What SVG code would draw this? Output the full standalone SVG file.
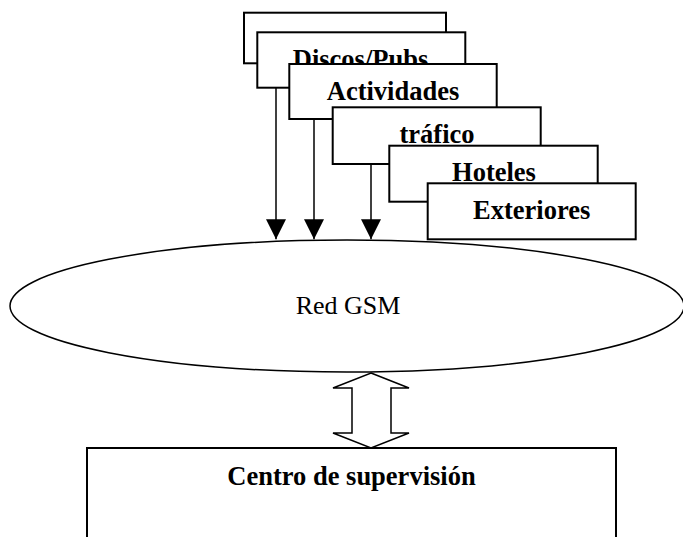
<svg xmlns="http://www.w3.org/2000/svg" width="683" height="537" viewBox="0 0 683 537">
<style>
.box{fill:#fff;stroke:#000;stroke-width:2}
.lbl{font-family:"Liberation Serif","Times New Roman",serif;font-weight:bold;font-size:26.5px;fill:#000;text-anchor:middle}
.reg{font-family:"Liberation Serif","Times New Roman",serif;font-size:26px;fill:#000;text-anchor:middle}
.conn{stroke:#000;stroke-width:1.5;fill:none}
.shape{fill:#fff;stroke:#000;stroke-width:1.5}
</style>
<defs>
<marker id="ah" markerUnits="userSpaceOnUse" markerWidth="20" markerHeight="20" refX="20" refY="10" orient="auto">
<path d="M0,0 L20,10 L0,20 z" fill="#000"/>
</marker>
</defs>
<rect width="683" height="537" fill="#fff"/>
<g id="ellipse-red-gsm">
<ellipse class="shape" cx="347" cy="306" rx="337" ry="66"/>
<text class="reg" x="348" y="314">Red GSM</text>
</g>
<g id="box-blank">
<rect class="box" x="244" y="12.7" width="202" height="50.6"/>
</g>
<g id="box-discos">
<rect class="box" x="257.3" y="32.3" width="208" height="55.4"/>
<text class="lbl" x="360.5" y="68">Discos/Pubs</text>
</g>
<g id="box-actividades">
<rect class="box" x="289.3" y="64" width="207.4" height="55"/>
<text class="lbl" x="393" y="99.5">Actividades</text>
</g>
<g id="box-trafico">
<rect class="box" x="332.7" y="107.3" width="208" height="56.7"/>
<text class="lbl" x="437" y="142.7">tráfico</text>
</g>
<g id="box-hoteles">
<rect class="box" x="389.3" y="145.7" width="208.4" height="56"/>
<text class="lbl" x="494" y="181">Hoteles</text>
</g>
<g id="box-exteriores">
<rect class="box" x="427.7" y="183.3" width="208" height="56"/>
<text class="lbl" x="531.7" y="219">Exteriores</text>
</g>
<g id="connectors">
<line class="conn" x1="276" y1="87.7" x2="276" y2="239.3" marker-end="url(#ah)"/>
<line class="conn" x1="314" y1="119" x2="314" y2="239.3" marker-end="url(#ah)"/>
<line class="conn" x1="371" y1="164" x2="371" y2="239.3" marker-end="url(#ah)"/>
<polygon class="shape" points="371,373 409,388 391,388 391,433 409,433 371,448 333,433 352,433 352,388 333,388"/>
</g>
<g id="box-centro">
<rect class="box" x="87" y="448" width="529" height="100"/>
<text class="lbl" x="351.5" y="485">Centro de supervisión</text>
</g>
</svg>
